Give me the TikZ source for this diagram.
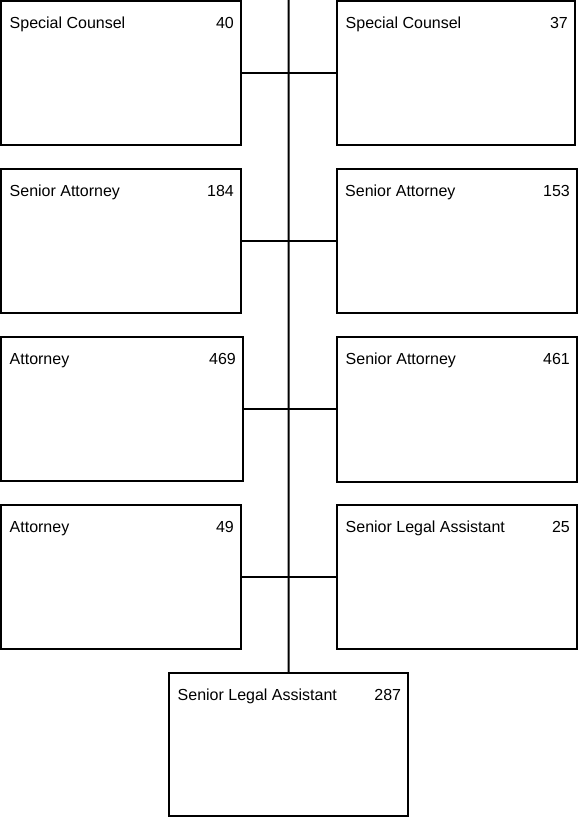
\documentclass[tikz,border=0pt]{standalone}
\usepackage{fontspec}
\setmainfont{Liberation Sans}
\begin{document}
\begin{tikzpicture}[x=1pt,y=-1pt,
  orgframe/.style={draw=black, line width=2pt, fill=white, inner sep=0pt, outer sep=0pt, anchor=north west},
  titletext/.style={inner sep=0pt, anchor=base west, font=\fontsize{16}{19}\selectfont},
  counttext/.style={inner sep=0pt, anchor=base east, font=\fontsize{16}{19}\selectfont},
  link/.style={draw=black, line width=2pt}]
\useasboundingbox (0,0) rectangle (578,817);

% \orgbox{name}{left}{top}{width}{height}{title}{count}
\newcommand{\orgbox}[7]{%
  \node[orgframe, minimum width=#4pt, minimum height=#5pt] (#1) at (#2,#3) {};
  \node[titletext] (#1-title) at ([shift={(8.5pt,-27.5pt)}]#1.north west) {#6};
  \node[counttext] (#1-count) at ([shift={(-7pt,-27.5pt)}]#1.north east) {#7};
}

% spine of the chart
\coordinate (spinetop) at (288.7,0);

\orgbox{l1}{1}{1}{240}{144}{Special Counsel}{40}
\orgbox{r1}{337}{1}{238}{144}{Special Counsel}{37}
\orgbox{l2}{1}{169}{240}{144}{Senior Attorney}{184}
\orgbox{r2}{336.5}{169}{240.5}{144}{Senior Attorney}{153}
\orgbox{l3}{1}{337}{242}{144}{Attorney}{469}
\orgbox{r3}{337}{337}{240}{145}{Senior Attorney}{461}
\orgbox{l4}{1}{505}{240}{144}{Attorney}{49}
\orgbox{r4}{337}{505}{240}{144}{Senior Legal Assistant}{25}
\orgbox{b}{169}{672.7}{239.3}{143.3}{Senior Legal Assistant}{287}

% connectors
\draw[link] (spinetop) -- (b.north);
\draw[link] (l1.east) -- (r1.west);
\draw[link] (l2.east) -- (r2.west);
\draw[link] (l3.east) -- (l3.east -| r3.west);
\draw[link] (l4.east) -- (r4.west);
\end{tikzpicture}
\end{document}
